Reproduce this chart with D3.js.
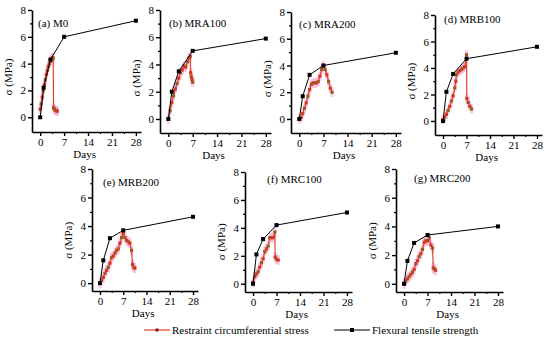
<!DOCTYPE html>
<html>
<head>
<meta charset="utf-8">
<script src="https://cdn.jsdelivr.net/npm/d3@7"></script>
<style>
  body { margin: 0; background: #fff; }
  text { font-family: "Liberation Serif", "Times New Roman", serif; }
</style>
</head>
<body>
<div id="graph"></div>
<script>
// flexural tensile strength days
var flexDays = [0, 1, 3, 7, 28];

var panelNames = ["(a) M0", "(b) MRA100", "(c) MRA200", "(d) MRB100", "(e) MRB200", "(f) MRC100", "(g) MRC200"];

var flexM0     = [0, 2.2, 4.3, 6.0, 7.2];
var flexMRA100 = [0, 2.0, 3.5, 5.0, 5.9];
var flexMRA200 = [0, 1.7, 3.3, 4.0, 4.95];
var flexMRB100 = [0, 2.2, 3.55, 4.7, 5.6];
var flexMRB200 = [0, 1.6, 3.15, 3.7, 4.65];
var flexMRC100 = [0, 2.1, 3.2, 4.2, 5.1];
var flexMRC200 = [0, 1.6, 2.85, 3.4, 4.0];

// restraint circumferential stress [day, MPa]
var rcsM0 = [[0,0.6],[0.3,1.0],[0.6,1.5],[0.9,2.0],[1.2,2.4],[1.5,2.8],[1.8,3.2],[2.1,3.5],[2.4,3.8],[2.7,4.0],[3.0,4.2],[3.3,4.35],[3.6,4.45],[3.8,4.4],[3.9,0.7],[4.2,0.6],[4.5,0.5],[4.8,0.5],[5.0,0.45]];
var rcsMRA100 = [[0,0],[0.5,0.6],[1,1.2],[1.5,1.7],[2,2.2],[2.5,2.6],[3,3.0],[3.5,3.4],[4,3.6],[4.5,3.9],[5,3.8],[5.5,4.2],[6,4.5],[6.3,4.6],[6.4,3.4],[6.6,3.1],[6.8,2.9],[7,2.7]];
var rcsMRA200 = [[0,0],[0.5,0.1],[1,0.4],[1.5,0.8],[2,1.2],[2.5,1.7],[3,2.2],[3.5,2.6],[4,2.7],[4.5,2.7],[5,2.7],[5.5,2.8],[6,3.2],[6.5,3.7],[7,4.0],[7.5,3.7],[8,3.3],[8.5,2.8],[9,2.3],[9.5,2.0]];
var rcsMRB100 = [[0,0.1],[0.5,0.3],[1,0.5],[1.5,0.8],[2,1.1],[2.5,1.5],[3,1.9],[3.5,2.5],[3.8,3.0],[4,3.5],[4.5,3.7],[5,3.8],[5.5,3.9],[6,4.0],[6.5,4.1],[7,5.0],[7.1,1.7],[7.5,1.4],[8,1.1],[8.5,0.9]];
var rcsMRB200 = [[0,0],[0.5,0.2],[1,0.4],[1.5,0.7],[2,0.9],[2.5,1.1],[3,1.4],[3.5,1.8],[4,1.9],[4.5,2.1],[5,2.3],[5.5,2.4],[6,2.8],[6.5,3.2],[7,3.5],[7.5,3.2],[8,3.0],[8.5,2.9],[9,2.8],[9.5,2.3],[9.8,1.3],[10.2,1.1],[10.5,1.05]];
var rcsMRC100 = [[0,0.1],[0.5,0.5],[1,0.7],[1.5,0.85],[2,1.2],[2.5,1.5],[3,1.8],[3.5,2.3],[4,2.5],[4.5,2.7],[5,3.3],[5.5,3.3],[6,3.3],[6.5,3.7],[6.6,1.9],[7,1.75],[7.5,1.7]];
var rcsMRC200 = [[0,0],[0.5,0.2],[1,0.35],[1.5,0.5],[2,0.65],[2.5,0.8],[3,1.0],[3.5,1.4],[4,1.6],[4.5,1.9],[5,2.1],[5.5,2.4],[6,2.9],[6.5,3.0],[7,3.0],[7.5,3.2],[8,2.7],[8.5,2.5],[8.7,1.1],[9,1.05],[9.4,0.95]];

var flexAll = [flexM0, flexMRA100, flexMRA200, flexMRB100, flexMRB200, flexMRC100, flexMRC200];
var rcsAll = [rcsM0, rcsMRA100, rcsMRA200, rcsMRB100, rcsMRB200, rcsMRC100, rcsMRC200];

var yTicks = [0, 2, 4, 6, 8];
var xTicks = [0, 7, 14, 21, 28];

// panel placement: left, top, width, height, y-axis floor, title offset
var layout = [
  {l: 32,  t: 10,  w: 109, h: 122, y0: -1.1,  tx: 6,  ty: 17},
  {l: 160, t: 10,  w: 111, h: 123, y0: -1.03, tx: 9,  ty: 17},
  {l: 291, t: 12,  w: 110, h: 121, y0: -1.05, tx: 8,  ty: 16},
  {l: 435, t: 15,  w: 107, h: 120, y0: -1.06, tx: 9,  ty: 8},
  {l: 92,  t: 169, w: 106, h: 122, y0: -0.55, tx: 11, ty: 17},
  {l: 245, t: 172, w: 107, h: 120, y0: -0.59, tx: 22, ty: 11},
  {l: 396, t: 169, w: 107, h: 123, y0: -0.57, tx: 18, ty: 13}
];

var svg = d3.select('#graph')
  .append('svg')
    .attr("width", 550)
    .attr("height", 339);

layout.forEach(function(p, i) {
  var g = svg.append("g")
      .attr("transform", "translate(" + p.l + "," + p.t + ")");

  var x = d3.scaleLinear().domain([-2.4, 29.5]).range([0, p.w]);
  var y = d3.scaleLinear().domain([p.y0, 8]).range([p.h, 0]);

  // minor ticks
  g.append("g")
      .attr("transform", "translate(0," + p.h + ")")
      .call(d3.axisBottom(x).tickValues([3.5, 10.5, 17.5, 24.5]).tickSize(2).tickSizeOuter(0).tickFormat(""))
      .call(function(a) { a.select(".domain").remove(); a.selectAll("line").attr("stroke-width", 1.2); });
  g.append("g")
      .call(d3.axisLeft(y).tickValues([1, 3, 5, 7]).tickSize(2).tickSizeOuter(0).tickFormat(""))
      .call(function(a) { a.select(".domain").remove(); a.selectAll("line").attr("stroke-width", 1.2); });

  // X axis
  var xa = g.append("g")
      .attr("transform", "translate(0," + p.h + ")")
      .call(d3.axisBottom(x).tickValues(xTicks).tickSize(4).tickSizeOuter(0).tickPadding(2));
  // Y axis
  var ya = g.append("g")
      .call(d3.axisLeft(y).tickValues(yTicks).tickSize(4).tickSizeOuter(0).tickPadding(2));
  [xa, ya].forEach(function(a) {
    a.select(".domain").attr("stroke-width", 1.6);
    a.selectAll("line").attr("stroke-width", 1.4);
    a.selectAll("text").attr("font-size", 11).attr("font-family", "Liberation Serif").attr("fill", "#000");
  });

  // axis names
  g.append("text")
      .attr("text-anchor", "middle")
      .attr("x", x(13))
      .attr("y", p.h + 26)
      .attr("font-size", 11)
      .text("Days");
  g.append("text")
      .attr("text-anchor", "middle")
      .attr("transform", "translate(-20," + y(3) + ") rotate(-90)")
      .attr("font-size", 11)
      .text("σ (MPa)");

  // panel title
  g.append("text")
      .attr("x", p.tx)
      .attr("y", p.ty)
      .attr("font-size", 11)
      .text(panelNames[i]);

  var rcs = rcsAll[i];

  // pink error bars
  g.selectAll(".err")
    .data(rcs)
    .enter().append("line")
      .attr("x1", function(d) { return x(d[0]); })
      .attr("x2", function(d) { return x(d[0]); })
      .attr("y1", function(d) { return y(d[1] - 0.35); })
      .attr("y2", function(d) { return y(d[1] + 0.35); })
      .attr("stroke", "#f6a9d6")
      .attr("stroke-width", 3)
      .attr("opacity", 0.6);

  // restraint circumferential stress
  g.append("path")
      .datum(rcs)
      .attr("fill", "none")
      .attr("stroke", "#e2412a")
      .attr("stroke-width", 1.2)
      .attr("d", d3.line()
        .x(function(d) { return x(d[0]); })
        .y(function(d) { return y(d[1]); })
      );
  g.selectAll(".rcs")
    .data(rcs)
    .enter().append("rect")
      .attr("x", function(d) { return x(d[0]) - 1.6; })
      .attr("y", function(d) { return y(d[1]) - 1.6; })
      .attr("width", 3.2)
      .attr("height", 3.2)
      .attr("fill", function(d, j) { return j % 2 ? "#9a5a24" : "#d8361f"; });

  // flexural tensile strength
  var flex = flexDays.map(function(d, j) { return [d, flexAll[i][j]]; });
  g.append("path")
      .datum(flex)
      .attr("fill", "none")
      .attr("stroke", "#000")
      .attr("stroke-width", 1)
      .attr("d", d3.line()
        .x(function(d) { return x(d[0]); })
        .y(function(d) { return y(d[1]); })
      );
  g.selectAll(".flex")
    .data(flex)
    .enter().append("rect")
      .attr("x", function(d) { return x(d[0]) - 2; })
      .attr("y", function(d) { return y(d[1]) - 2; })
      .attr("width", 4)
      .attr("height", 4)
      .attr("fill", "#000");
});

// legend
var lg = svg.append("g");
lg.append("line").attr("x1", 144).attr("x2", 170).attr("y1", 330).attr("y2", 330)
  .attr("stroke", "#e2412a").attr("stroke-width", 1.2);
lg.append("circle").attr("cx", 157).attr("cy", 330).attr("r", 1.8).attr("fill", "#8b1a10");
lg.append("text").attr("x", 172).attr("y", 334).attr("font-size", 11).text("Restraint circumferential stress");
lg.append("line").attr("x1", 334).attr("x2", 370).attr("y1", 330).attr("y2", 330)
  .attr("stroke", "#000").attr("stroke-width", 1);
lg.append("rect").attr("x", 350).attr("y", 328).attr("width", 4).attr("height", 4).attr("fill", "#000");
lg.append("text").attr("x", 372).attr("y", 334).attr("font-size", 11).text("Flexural tensile strength");
</script>
</body>
</html>
